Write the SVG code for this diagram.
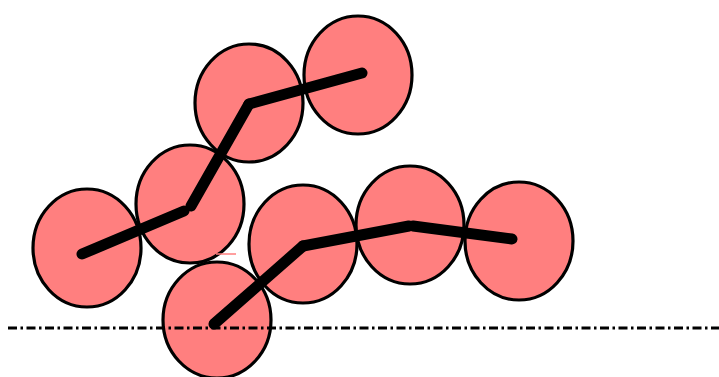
<svg xmlns="http://www.w3.org/2000/svg" width="719" height="377" viewBox="0 0 719 377">
<style>
.n{fill:#ff7f7f;stroke:#000;stroke-width:3.2}
.l{fill:none;stroke:#000;stroke-width:11;stroke-linecap:round}
</style>
<rect width="719" height="377" fill="#fff"/>
<g id="n1"><ellipse class="n" cx="87" cy="248" rx="54" ry="59"/></g>
<g id="n2"><ellipse class="n" cx="190" cy="204" rx="54" ry="59"/></g>
<g id="n3"><ellipse class="n" cx="249" cy="103" rx="54" ry="59"/></g>
<g id="n4"><ellipse class="n" cx="358" cy="75" rx="54" ry="59"/></g>
<g id="n5"><ellipse class="n" cx="217" cy="320" rx="54" ry="58"/></g>
<g id="n6"><ellipse class="n" cx="303" cy="244" rx="54" ry="59"/></g>
<g id="n7"><ellipse class="n" cx="410" cy="225" rx="54" ry="59"/></g>
<g id="n8"><ellipse class="n" cx="519" cy="241" rx="54" ry="59"/></g>
<line x1="216" y1="254" x2="236" y2="254" stroke="#ff7f7f" stroke-width="1.5"/>
<g id="connectors">
<line class="l" x1="82" y1="254" x2="184" y2="211"/>
<line class="l" x1="191" y1="206" x2="249" y2="104"/>
<line class="l" x1="249" y1="104" x2="362" y2="73"/>
<line class="l" x1="214" y1="324" x2="303" y2="246"/>
<line class="l" x1="303" y1="246" x2="409" y2="226"/>
<line class="l" x1="413" y1="226" x2="512" y2="239"/>
<line x1="8" y1="328" x2="719" y2="328" stroke="#000" stroke-width="3" stroke-dasharray="9,3.5,2.5,3.5"/>
</g>
</svg>
